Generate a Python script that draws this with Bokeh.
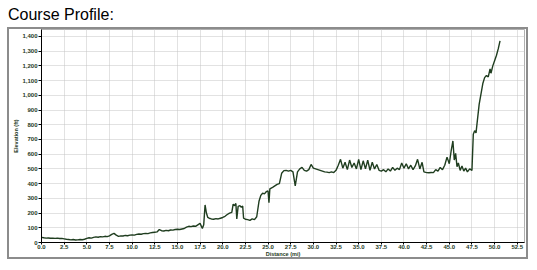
from bokeh.plotting import figure
from bokeh.layouts import column
from bokeh.models import Range1d, SingleIntervalTicker, NumeralTickFormatter, Div
from bokeh.embed import file_html
from bokeh.resources import INLINE

title_text = "Course Profile:"
x_label = "Distance (mi)"
y_label = "Elevation (ft)"

distance_mi = [
    0.0, 0.25, 0.5, 0.75, 1.0, 1.25, 1.5, 1.75, 2.0, 2.25, 2.5, 2.75, 3.0, 3.25, 3.5, 3.75,
    4.0, 4.25, 4.5, 4.75, 5.0, 5.25, 5.5, 5.75, 6.0, 6.25, 6.5, 6.75, 7.0, 7.25, 7.5, 7.75,
    8.0, 8.25, 8.5, 8.75, 9.0, 9.25, 9.5, 9.75, 10.0, 10.25, 10.5, 10.75, 11.0, 11.25, 11.5,
    11.75, 12.0, 12.25, 12.5, 12.75, 13.0, 13.25, 13.5, 13.75, 14.0, 14.25, 14.5, 14.75, 15.0,
    15.25, 15.5, 15.75, 16.0, 16.25, 16.5, 16.75, 17.0, 17.25, 17.5, 17.75, 17.9, 18.05, 18.2,
    18.35, 18.5, 18.75, 19.0, 19.25, 19.5, 19.75, 20.0, 20.25, 20.5, 20.75, 21.0, 21.15, 21.3,
    21.45, 21.55, 21.7, 21.9, 22.05, 22.2, 22.3, 22.5, 22.75, 23.0, 23.25, 23.5, 23.75, 24.0,
    24.2, 24.4, 24.6, 24.8, 25.0, 25.1, 25.2, 25.5, 25.75, 26.0, 26.25, 26.5, 26.75, 27.0,
    27.25, 27.5, 27.75, 28.0, 28.25, 28.5, 28.75, 29.0, 29.25, 29.5, 29.75, 30.0, 30.25, 30.5,
    30.75, 31.0, 31.25, 31.5, 31.75, 32.0, 32.25, 32.5, 32.75, 33.0, 33.25, 33.5, 33.75, 34.0,
    34.25, 34.5, 34.75, 35.0, 35.25, 35.5, 35.75, 36.0, 36.25, 36.5, 36.75, 37.0, 37.25, 37.5,
    37.75, 38.0, 38.25, 38.5, 38.75, 39.0, 39.25, 39.5, 39.75, 40.0, 40.25, 40.5, 40.75, 41.0,
    41.25, 41.5, 41.75, 42.0, 42.2, 42.5, 42.75, 43.0, 43.25, 43.5, 43.75, 44.0, 44.25, 44.5,
    44.75, 45.0, 45.2, 45.4, 45.55, 45.7, 45.85, 46.0, 46.2, 46.4, 46.6, 46.8, 47.0, 47.25,
    47.5, 47.65, 47.8, 47.95, 48.1, 48.3, 48.5, 48.7, 48.9, 49.1, 49.3, 49.5, 49.6, 49.8, 50.0,
    50.2, 50.4, 50.6,
]

elevation_ft = [
    35, 32, 30, 31, 29, 30, 28, 30, 27, 28, 25, 22, 20, 18, 20, 17,
    18, 20, 19, 22, 28, 32, 30, 35, 38, 36, 40, 38, 42, 40, 45, 55,
    62, 50, 42, 45, 44, 48, 46, 50, 52, 50, 55, 58, 56, 60, 62,
    60, 65, 68, 70, 72, 88, 80, 78, 82, 80, 85, 84, 88, 90,
    88, 92, 95, 105, 110, 108, 112, 110, 120, 130, 95, 120, 255, 200,
    170, 165, 160, 158, 162, 160, 165, 170, 178, 190, 200, 205, 260, 250,
    265, 160, 245, 250, 240, 248, 165, 158, 155, 150, 160, 155, 175, 280,
    320, 335, 330, 345, 350, 270, 365, 375, 385, 395, 400, 470, 488, 490,
    485, 490, 480, 385, 480, 500, 510, 490, 485, 495, 530, 505, 500, 495,
    490, 485, 480, 478, 475, 480, 475, 490, 525, 565, 505, 545, 495, 560,
    510, 540, 500, 565, 495, 555, 500, 560, 490, 545, 500, 530, 490, 485,
    495, 480, 500, 485, 510, 490, 505, 495, 540, 505, 535, 500, 525, 495,
    520, 565, 500, 545, 480, 475, 474, 476, 475, 495, 485, 510, 495, 525,
    580, 535, 620, 690, 560, 605, 515, 540, 490, 520, 485, 505, 480, 500,
    490, 735, 760, 745, 830, 940, 1010, 1080, 1120, 1135, 1125, 1180, 1150, 1200, 1235,
    1270, 1315, 1370,
]

tick_color = "#1e3a1e"
line_color = "#1f3d1f"

title = Div(
    text=title_text, width=520, height=21, margin=(6, 0, 0, 8),
    styles={"font-family": "Liberation Sans", "font-size": "16px", "color": "#000000",
            "line-height": "18px"},
)

p = figure(
    width=521, height=232, output_backend="svg", toolbar_location=None,
    x_range=Range1d(0, 53.3), y_range=Range1d(0, 1447),
    min_border_left=32, min_border_right=6, min_border_top=0, min_border_bottom=19,
    background_fill_color="white", border_fill_color="white",
    margin=(0, 0, 0, 7),
    styles={"border": "2px solid #8c8c8c", "box-sizing": "border-box"},
)

p.outline_line_color = "#b0b0b0"
p.outline_line_width = 1

xt = SingleIntervalTicker(interval=2.5, num_minor_ticks=0)
yt = SingleIntervalTicker(interval=100, num_minor_ticks=0)
p.xaxis.ticker = xt
p.yaxis.ticker = yt
p.xgrid.ticker = xt
p.ygrid.ticker = yt
p.xaxis.formatter = NumeralTickFormatter(format="0.0")
p.yaxis.formatter = NumeralTickFormatter(format="0,0")

for ax in (p.xaxis[0], p.yaxis[0]):
    ax.axis_line_color = "#000000"
    ax.axis_line_width = 1
    ax.major_tick_line_color = "#000000"
    ax.major_tick_out = 3
    ax.major_tick_in = 0
    ax.minor_tick_line_color = None
    ax.major_label_text_font = "Liberation Sans"
    ax.major_label_text_font_style = "bold"
    ax.major_label_text_font_size = "6px"
    ax.major_label_text_color = tick_color
    ax.axis_label_text_font = "Liberation Sans"
    ax.axis_label_text_font_style = "bold"
    ax.axis_label_text_font_size = "5.5px"
    ax.axis_label_text_color = tick_color

p.xaxis.major_tick_out = 2
p.xaxis.axis_label = x_label
p.yaxis.axis_label = y_label
p.xaxis.major_label_standoff = 0
p.xaxis.axis_label_standoff = -1
p.yaxis.major_label_standoff = 1
p.yaxis.axis_label_standoff = 0

for g in (p.xgrid[0], p.ygrid[0]):
    g.grid_line_color = "#c4c4c4"
    g.grid_line_dash = "1 1"
    g.grid_line_width = 1

p.line(distance_mi, elevation_ft, line_color=line_color, line_width=1.4)

layout = column(title, p, margin=(0, 0, 0, 0))

open("out.html", "w").write(file_html(layout, INLINE))
